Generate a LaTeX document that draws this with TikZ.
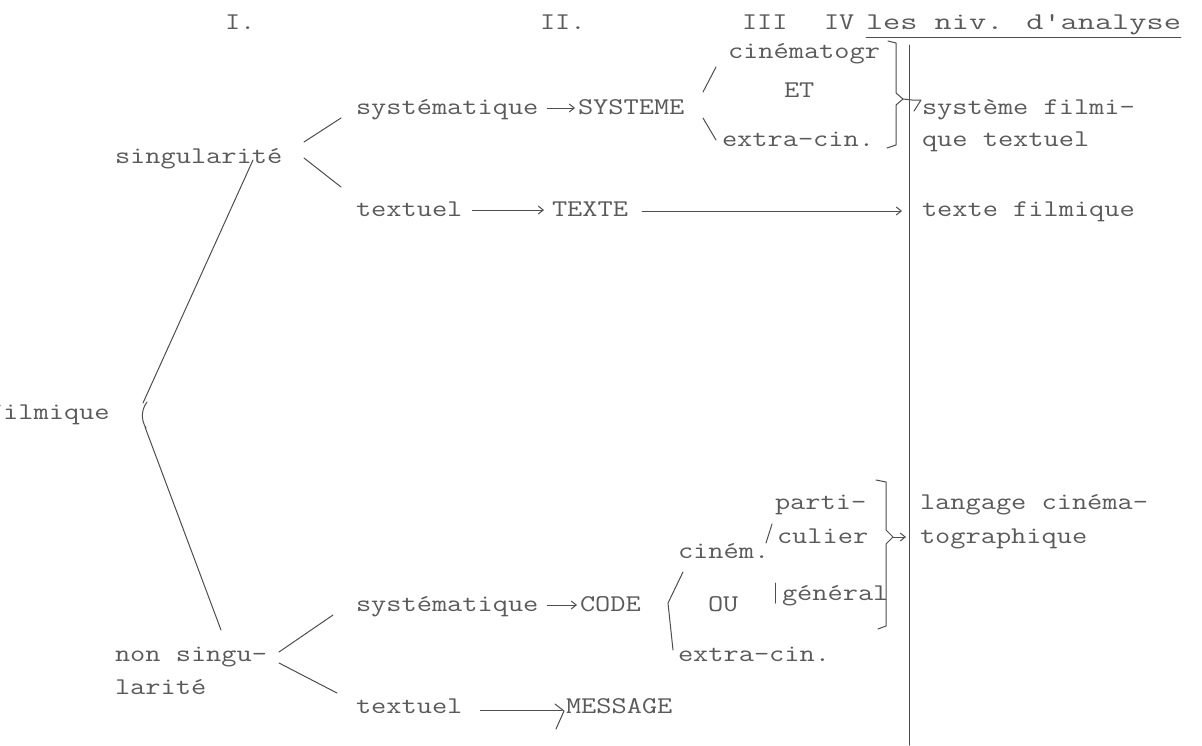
\documentclass[tikz,border=0pt]{standalone}
\usepackage{fontspec}
\usetikzlibrary{arrows.meta}
\definecolor{ink}{HTML}{5A5A5A}
\definecolor{pen}{HTML}{4E4E4E}
\newcommand\tw[1]{\scalebox{1.23}[1]{#1}}
\newcommand\hw[1]{\scalebox{1.39}[1]{#1}}
\begin{document}
\begin{tikzpicture}[x=1pt,y=-1pt,
  lbl/.style={anchor=base west, inner sep=0pt, outer sep=0pt, text=ink,
    font=\fontsize{24}{28}\selectfont\ttfamily},
  ln/.style={draw=pen, line width=1pt, line cap=round, line join=round},
  tip/.style={ln, -{Straight Barb[length=5pt,width=8pt]}}]
\useasboundingbox (0,0) rectangle (1202,745);
\clip (0,0) rectangle (1202,745);
\fill[white] (0,0) rectangle (1202,745);
% header
\node[lbl] (h1) at (225,29) {\tw{I.}};
\node[lbl] (h2) at (540,29) {\tw{II.}};
\node[lbl] (h3) at (742,29) {\tw{III}};
\node[lbl] (h4) at (824,29) {\tw{IV}};
\node[lbl] (h5) at (866,29) {\hw{les niv. d'analyse}};
\draw[ln] ([yshift=-8pt]h5.base west) -- ([yshift=-8pt]h5.base east);
% upper block
\node[lbl] (cin) at (728,58) {\tw{cinématogr}};
\node[lbl] (et) at (784,97) {\tw{ET}};
\node[lbl] (sys) at (356,114) {\tw{systématique}};
\node[lbl] (SYS) at (578,114) {\tw{SYSTEME}};
\node[lbl] (xc) at (722,146) {\tw{extra-cin.}};
\node[lbl] (sf1) at (922,114) {\tw{système filmi-}};
\node[lbl] (sf2) at (922,146) {\tw{que textuel}};
\node[lbl] (sing) at (115,163) {\tw{singularité}};
\node[lbl] (tx1) at (356,216) {\tw{textuel}};
\node[lbl] (TXT) at (552,216) {\tw{TEXTE}};
\node[lbl] (tf) at (922,216) {\tw{texte filmique}};
\node[lbl] (film) at (-12,419) {\tw{filmique}};
% lower block
\node[lbl] (parti) at (775,509) {\tw{parti-}};
\node[lbl] (cul) at (777,543) {\tw{culier}};
\node[lbl] (cinm) at (678,558) {\tw{ciném.}};
\node[lbl] (gen) at (782,600) {\tw{général}};
\node[lbl] (sys2) at (356,611) {\tw{systématique}};
\node[lbl] (CODE) at (580,611) {\tw{CODE}};
\node[lbl] (ou) at (708,611) {\tw{OU}};
\node[lbl] (xc2) at (678,661) {\tw{extra-cin.}};
\node[lbl] (ns1) at (115,661) {\tw{non singu-}};
\node[lbl] (ns2) at (115,694) {\tw{larité}};
\node[lbl] (tx2) at (356,713) {\tw{textuel}};
\node[lbl] (MSG) at (566,713) {\tw{MESSAGE}};
\node[lbl] (lc1) at (920,509) {\tw{langage cinéma-}};
\node[lbl] (lc2) at (920,543) {\tw{tographique}};
% coordinates
\coordinate (vtop) at (909,45);
\coordinate (vbot) at (909,745);
\coordinate (sgA) at (304,142); \coordinate (sgB) at (341,118);
\coordinate (sgC) at (304,158); \coordinate (sgD) at (341,187);
\coordinate (lnA) at (253,160); \coordinate (lnB) at (143,403);
\coordinate (lnC) at (145,427); \coordinate (lnD) at (221,630);
\coordinate (nsA) at (279,652); \coordinate (nsB) at (333,615);
\coordinate (nsC) at (279,663); \coordinate (nsD) at (337,693);
% tree lines
\draw[ln] (vtop) -- (vbot);
\draw[ln] (sgA) -- (sgB);
\draw[ln] (sgC) -- (sgD);
\draw[ln] (lnA) -- (lnB);
\draw[ln] (lnC) -- (lnD);
\draw[ln] (147,402) .. controls (141,410) and (141,420) .. (146,428);
\draw[ln] (nsA) -- (nsB);
\draw[ln] (nsC) -- (nsD);
% arrows
\draw[tip] ([xshift=9pt]sys.east |- 0,108) -- ([xshift=-3pt]SYS.west |- 0,108);
\draw[tip] ([xshift=9pt]sys2.east |- 0,605) -- ([xshift=-3pt]CODE.west |- 0,605);
\draw[tip] ([xshift=10pt]tx1.east |- 0,210) -- ([xshift=-8pt]TXT.west |- 0,210);
\draw[tip] ([xshift=14pt]TXT.east |- 0,211) -- (902,211);
\draw[ln] ([xshift=18pt]tx2.east |- 0,710) -- (562,710);
\draw[ln] (555,704) -- (564,711) -- (556,729);
% SYSTEME bracket
\draw[ln] (703,92) -- (716,67);
\draw[ln] (703,118) -- (716,140);
% upper brace
\draw[ln] (888,41) -- (896,43) -- (896,93) -- (903,99) -- (896,105) -- (896,145) -- (887,148);
\draw[ln] (903,99) -- (912,100) -- (921,100) -- (914,111);
% CODE bracket
\draw[ln] (683,572) -- (668,603) -- (673,650);
\draw[ln] (766,543) -- (772,524);
\draw[ln] (775,583) -- (775,603);
% lower brace
\draw[ln] (876,480) -- (886,482) -- (886,530) -- (893,537) -- (886,544) -- (886,626) -- (878,629);
\draw[tip] (893,537) -- (906,537);
\end{tikzpicture}
\end{document}
